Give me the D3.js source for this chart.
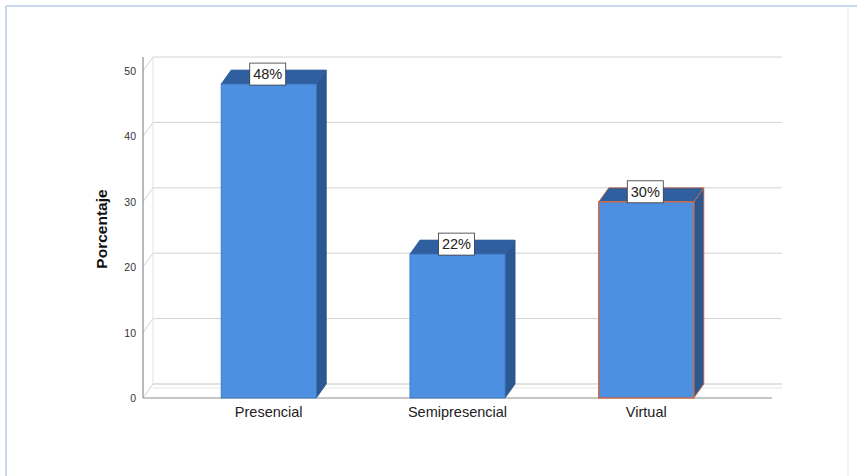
<!DOCTYPE html>
<html>
<head>
<meta charset="utf-8">
<script src="https://cdn.jsdelivr.net/npm/d3@7/dist/d3.min.js"></script>
<style>
  html, body { margin: 0; padding: 0; background: #ffffff; }
  svg { display: block; font-family: "Liberation Sans", Arial, sans-serif; }
</style>
</head>
<body>
<svg id="chart" width="857" height="476"></svg>
<script>
// Modalidad de estudio: porcentaje de respuestas
const categories = ["Presencial", "Semipresencial", "Virtual"];
const values = [48, 22, 30];
const valueLabels = ["48%", "22%", "30%"];
const yTicks = [0, 10, 20, 30, 40, 50];
const yTitle = "Porcentaje";

const svg = d3.select("#chart");

// outer frame of the output panel (left and top edges strong, right edge faint)
svg.append("line").attr("x1", 6).attr("x2", 857).attr("y1", 6).attr("y2", 6)
  .attr("stroke", "#c7d7ee").attr("stroke-width", 2);
svg.append("line").attr("x1", 6).attr("x2", 6).attr("y1", 6).attr("y2", 476)
  .attr("stroke", "#c7d7ee").attr("stroke-width", 2);
svg.append("line").attr("x1", 848).attr("x2", 848).attr("y1", 6).attr("y2", 476)
  .attr("stroke", "#eef2f8").attr("stroke-width", 1.5);

// 3D depth offset
const dx = 10, dy = -14;

const x = d3.scaleBand()
  .domain(categories)
  .range([143, 772])
  .paddingInner(0.496)
  .paddingOuter(0.414);

const y = d3.scaleLinear().domain([0, 50]).range([398, 71]);

const g = svg.append("g");

// back wall grid lines and left wall connectors
yTicks.forEach(t => {
  const yy = y(t);
  g.append("line")
    .attr("x1", 143 + dx).attr("x2", 772 + dx)
    .attr("y1", yy + dy).attr("y2", yy + dy)
    .attr("stroke", t === 0 ? "#c4c4c4" : "#d2d2d2").attr("stroke-width", 1);
  g.append("line")
    .attr("x1", 143).attr("y1", yy)
    .attr("x2", 143 + dx).attr("y2", yy + dy)
    .attr("stroke", "#d2d2d2").attr("stroke-width", 1);
});
// back wall left edge
g.append("line")
  .attr("x1", 143 + dx).attr("x2", 143 + dx)
  .attr("y1", y(0) + dy).attr("y2", y(50) + dy)
  .attr("stroke", "#e2e2e2");
// floor inner highlight
g.append("line")
  .attr("x1", 143 + dx).attr("x2", 772 + dx)
  .attr("y1", y(0) + dy + 4).attr("y2", y(0) + dy + 4)
  .attr("stroke", "#e6e6e6");

// front axes
g.append("line")
  .attr("x1", 143).attr("x2", 143)
  .attr("y1", y(0)).attr("y2", y(50) - 14)
  .attr("stroke", "#8c8c8c").attr("stroke-width", 1.2);
g.append("line")
  .attr("x1", 143).attr("x2", 772)
  .attr("y1", y(0)).attr("y2", y(0))
  .attr("stroke", "#8c8c8c").attr("stroke-width", 1.2);

// tick labels
g.selectAll("text.tick")
  .data(yTicks).join("text")
  .attr("class", "tick")
  .attr("x", 136).attr("y", d => y(d) + 4)
  .attr("text-anchor", "end")
  .attr("font-size", 10.5)
  .attr("fill", "#333")
  .text(d => d);

// y axis title
svg.append("text")
  .attr("transform", "translate(107,229) rotate(-90)")
  .attr("text-anchor", "middle")
  .attr("font-size", 15.5)
  .attr("font-weight", "bold")
  .attr("fill", "#111")
  .text(yTitle);

// bars
const bw = x.bandwidth();
const front = "#4d8fe0", dark = "#2f5f9f", sideCol = "#2c5892";
categories.forEach((c, i) => {
  const x0 = x(c), x1 = x0 + bw, yv = y(values[i]), yb = y(0);
  const edge = c === "Virtual" ? "#d4673c" : "#3c74bf";
  const bar = g.append("g");
  // side face
  bar.append("polygon")
    .attr("points", [[x1, yv], [x1 + dx, yv + dy], [x1 + dx, yb + dy], [x1, yb]].join(" "))
    .attr("fill", sideCol).attr("stroke", c === "Virtual" ? edge : sideCol).attr("stroke-width", 0.8);
  // top face
  bar.append("polygon")
    .attr("points", [[x0, yv], [x0 + dx, yv + dy], [x1 + dx, yv + dy], [x1, yv]].join(" "))
    .attr("fill", dark).attr("stroke", c === "Virtual" ? edge : dark).attr("stroke-width", 0.8);
  // front face
  bar.append("rect")
    .attr("x", x0).attr("y", yv).attr("width", bw).attr("height", yb - yv)
    .attr("fill", front).attr("stroke", edge).attr("stroke-width", c === "Virtual" ? 1.3 : 0.8);

  // value label box
  const cx = x0 + bw / 2 - 1;
  const bwid = 36, bh = 22;
  bar.append("rect")
    .attr("x", cx - bwid / 2).attr("y", yv - bh + 1)
    .attr("width", bwid).attr("height", bh)
    .attr("fill", "#ffffff").attr("stroke", "#333").attr("stroke-width", 0.8);
  bar.append("text")
    .attr("x", cx).attr("y", yv - 5)
    .attr("text-anchor", "middle")
    .attr("font-size", 14.5)
    .attr("fill", "#222")
    .text(valueLabels[i]);
});

// category labels
g.selectAll("text.cat")
  .data(categories).join("text")
  .attr("class", "cat")
  .attr("x", d => x(d) + bw / 2)
  .attr("y", 417)
  .attr("text-anchor", "middle")
  .attr("font-size", 14.5)
  .attr("fill", "#222")
  .text(d => d);
</script>
</body>
</html>
